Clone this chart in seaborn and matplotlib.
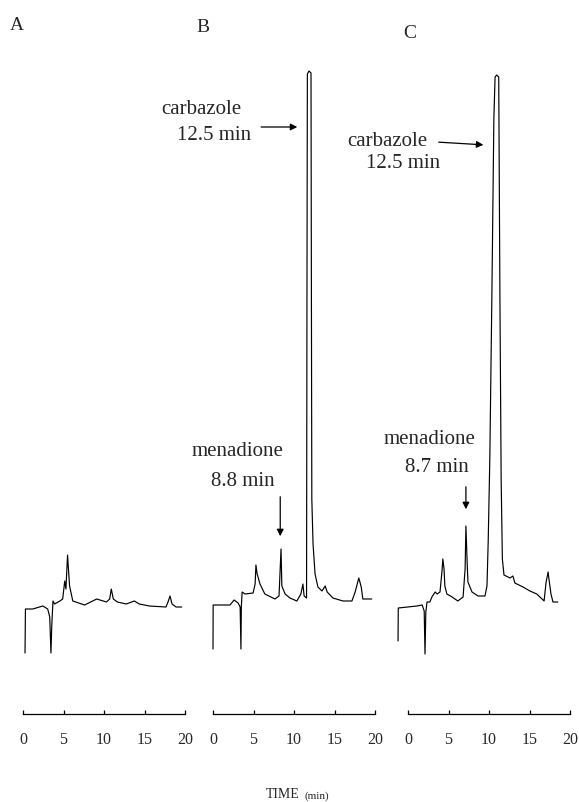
import pandas as pd
import matplotlib.pyplot as plt
import seaborn as sns

# -----------------------------
# Chromatogram traces
# time in min, detector response in arbitrary units (baseline ~0)
# -----------------------------
time_a = [0.25, 0.3, 1.2, 2.45, 3.05, 3.3, 3.45, 3.55, 3.7, 3.9, 4.55, 4.9, 5.15, 5.3,
          5.5, 5.75, 6.15, 7.6, 9.1, 10.3, 10.7, 10.9, 11.15, 11.65, 12.75, 13.75,
          14.35, 15.6, 17.65, 17.9, 18.15, 18.4, 18.9, 19.6]
resp_a = [-44, 0, 0, 3, 0, -8, -44, -17, 8, 5, 8, 10, 28, 20,
          54, 23, 8, 4, 10, 7, 10, 20, 10, 7, 5, 8,
          5, 3, 2, 7, 13, 5, 2, 2]

time_b = [0.0, 0.02, 2.1, 2.6, 3.1, 3.35, 3.45, 3.5, 3.6, 3.95, 4.95, 5.2, 5.3, 5.45,
          5.8, 6.4, 7.65, 8.15, 8.4, 8.5, 8.9, 9.5, 10.35, 10.85, 11.1, 11.25, 11.55,
          11.6, 11.65, 11.85, 12.1, 12.15, 12.2, 12.35, 12.6, 12.95, 13.45, 13.85,
          14.1, 14.8, 16.05, 17.15, 17.55, 18.0, 18.3, 18.5, 19.6]
resp_b = [-40, 4, 4, 9, 6, 2, -40, 3, 17, 15, 16, 25, 44, 35,
          25, 15, 10, 13, 60, 23, 15, 11, 8, 15, 25, 13, 11,
          310, 535, 538, 536, 310, 110, 65, 35, 22, 18, 23,
          17, 11, 8, 8, 17, 31, 22, 10, 10]

time_c = [-1.23, -1.2, 1.1, 1.75, 2.0, 2.1, 2.2, 2.35, 2.7, 2.95, 3.35, 3.6, 3.95,
          4.2, 4.3, 4.45, 4.55, 4.8, 5.45, 6.15, 6.8, 7.05, 7.15, 7.3, 7.4, 7.9,
          8.65, 9.5, 9.75, 9.9, 10.1, 10.35, 10.6, 10.75, 10.95, 11.2, 11.35, 11.5,
          11.65, 11.85, 12.6, 12.95, 13.2, 14.2, 15.05, 15.9, 16.55, 16.8, 17.05,
          17.3, 17.4, 17.65, 17.9, 18.5]
resp_c = [-32, 1, 3, 4, -2, -45, -3, 7, 7, 12, 17, 15, 17,
          38, 50, 40, 23, 15, 12, 8, 12, 40, 83, 47, 27, 17,
          13, 13, 23, 67, 150, 310, 490, 532, 534, 532, 310, 130,
          50, 34, 31, 33, 26, 22, 18, 15, 10, 8, 27,
          37, 30, 15, 7, 7]

panels = ["A", "B", "C"]
tick_values = [0, 5, 10, 15, 20]

# peak labels (retention time text)
carb_labels = {"B": "12.5 min", "C": "12.5 min"}
mena_labels = {"B": "8.8 min", "C": "8.7 min"}

traces = {
    "A": pd.DataFrame({"time": time_a, "resp": resp_a}),
    "B": pd.DataFrame({"time": time_b, "resp": resp_b}),
    "C": pd.DataFrame({"time": time_c, "resp": resp_c}),
}

# -----------------------------
# Style
# -----------------------------
sns.set_style("white")
plt.rcParams['font.family'] = ['Liberation Serif', 'DejaVu Serif']

W, H = 579, 803
fig = plt.figure(figsize=(W / 100, H / 100), dpi=100)

origin_px = {"A": 23, "B": 213, "C": 408}
px_per_min = 8.1
axis_px = 715
xlim = (-1.6, 21.6)
ylim = (-105, 610)

arrow = dict(arrowstyle="-|>", color="black", lw=0.9, mutation_scale=10)

for p in panels:
    left = (origin_px[p] + xlim[0] * px_per_min) / W
    width = (xlim[1] - xlim[0]) * px_per_min / W
    ax = fig.add_axes([left, (H - axis_px) / H, width, axis_px / H])
    df = traces[p]
    sns.lineplot(data=df, x="time", y="resp", ax=ax, color="black",
                 linewidth=0.85, sort=False, estimator=None)
    ax.set_xlim(*xlim)
    ax.set_ylim(*ylim)
    ax.set_xlabel("")
    ax.set_ylabel("")
    ax.set_yticks([])
    for s in ["left", "top", "right"]:
        ax.spines[s].set_visible(False)
    ax.spines["bottom"].set_bounds(0, 20)
    ax.spines["bottom"].set_color("black")
    ax.spines["bottom"].set_linewidth(0.9)
    ax.set_xticks(tick_values)
    ax.set_xticklabels([str(v) for v in tick_values])
    ax.tick_params(axis="x", bottom=True, direction="in", length=3, width=0.9,
                   color="black", pad=12, labelsize=11.5)
    ax.patch.set_alpha(0)

    if p in carb_labels:
        peak_t = df.loc[df["resp"] > 300, "time"].min()
        if p == "B":
            ax.text(-1.5, 500, "carbazole", ha="center", va="center", fontsize=15)
            ax.text(0.1, 474, carb_labels[p], ha="center", va="center", fontsize=15)
            ax.annotate("", xy=(peak_t - 0.85, 482), xytext=(5.6, 482), arrowprops=arrow)
        else:
            ax.text(-2.5, 468, "carbazole", ha="center", va="center", fontsize=15)
            ax.text(-0.6, 446, carb_labels[p], ha="center", va="center", fontsize=15)
            ax.annotate("", xy=(peak_t - 0.7, 464), xytext=(3.45, 467), arrowprops=arrow)

        # menadione: highest point between 6.5 and 9 min
        sub = df[(df["time"] > 6.5) & (df["time"] < 9)]
        m = sub.loc[sub["resp"].idxmax()]
        if p == "B":
            ax.text(3.0, 158, "menadione", ha="center", va="center", fontsize=15)
            ax.text(3.7, 128, mena_labels[p], ha="center", va="center", fontsize=15)
            ax.annotate("", xy=(m["time"] - 0.1, m["resp"] + 10),
                        xytext=(m["time"] - 0.1, 115), arrowprops=arrow)
        else:
            ax.text(2.7, 170, "menadione", ha="center", va="center", fontsize=15)
            ax.text(3.6, 142, mena_labels[p], ha="center", va="center", fontsize=15)
            ax.annotate("", xy=(m["time"], m["resp"] + 14),
                        xytext=(m["time"], 125), arrowprops=arrow)

# panel letters
letter_pos = {"A": (17, 25), "B": (203, 27), "C": (410, 33)}
for p in panels:
    x, y = letter_pos[p]
    fig.text(x / W, 1 - y / H, p, ha="center", va="center", fontsize=14)

fig.text(300 / W, 1 - 795 / H, "TIME", ha="right", va="center", fontsize=10)
fig.text(304 / W, 1 - 796 / H, "(min)", ha="left", va="center", fontsize=8)

fig.savefig("out.png", dpi=100)
